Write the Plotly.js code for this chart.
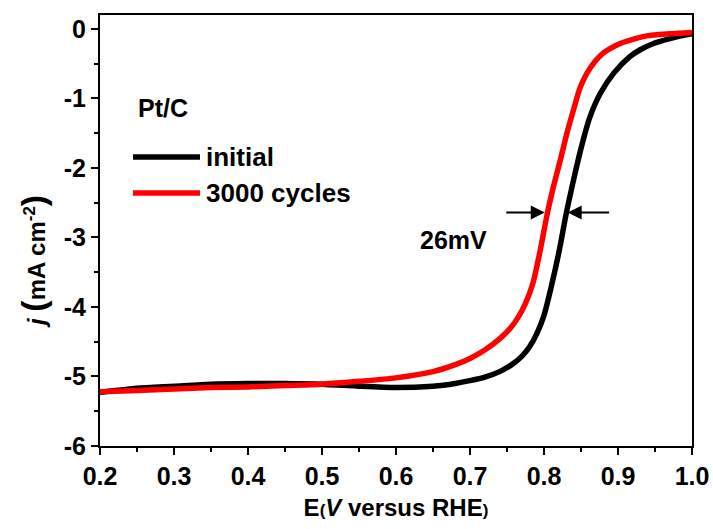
<!DOCTYPE html>
<html>
<head>
<meta charset="utf-8">
<script src="https://cdn.plot.ly/plotly-3.0.1.min.js"></script>
<style>html,body{margin:0;padding:0;background:#fff;}#chart{width:713px;height:529px;}</style>
</head>
<body>
<div id="chart"></div>
<script>
// Data
const initialE = [0.20, 0.25, 0.30, 0.35, 0.40, 0.45, 0.50, 0.55, 0.60, 0.65, 0.68, 0.70, 0.72, 0.74, 0.755, 0.77, 0.78, 0.79, 0.80, 0.81, 0.82, 0.83, 0.84, 0.85, 0.862, 0.876, 0.894, 0.916, 0.93, 0.948, 0.97, 0.985, 1.00];
const initialJ = [-5.23, -5.17, -5.14, -5.11, -5.10, -5.10, -5.11, -5.14, -5.16, -5.14, -5.10, -5.06, -5.01, -4.93, -4.84, -4.71, -4.58, -4.39, -4.12, -3.70, -3.22, -2.66, -2.17, -1.72, -1.27, -0.93, -0.64, -0.40, -0.30, -0.21, -0.14, -0.10, -0.07];

const cyclesE = [0.20, 0.25, 0.30, 0.35, 0.40, 0.45, 0.50, 0.55, 0.60, 0.65, 0.68, 0.70, 0.72, 0.74, 0.755, 0.765, 0.775, 0.785, 0.795, 0.804, 0.813, 0.822, 0.831, 0.840, 0.849, 0.862, 0.880, 0.903, 0.92, 0.939, 0.97, 1.00];
const cyclesJ = [-5.22, -5.20, -5.18, -5.16, -5.15, -5.13, -5.11, -5.07, -5.02, -4.93, -4.83, -4.74, -4.62, -4.46, -4.30, -4.15, -3.95, -3.66, -3.18, -2.68, -2.26, -1.89, -1.50, -1.16, -0.84, -0.57, -0.35, -0.21, -0.15, -0.10, -0.07, -0.05];

const seriesNames = ["initial", "3000 cycles"];
const seriesColors = ["#000000", "#ff0000"];
const xTickVals = [0.2, 0.3, 0.4, 0.5, 0.6, 0.7, 0.8, 0.9, 1.0];
const xTickText = ["0.2", "0.3", "0.4", "0.5", "0.6", "0.7", "0.8", "0.9", "1.0"];
const yTickVals = [-6, -5, -4, -3, -2, -1, 0];
const yTickText = ["-6", "-5", "-4", "-3", "-2", "-1", "0"];

const FONT = "Arial, 'Liberation Sans', sans-serif";
const bold = s => "<b>" + s + "</b>";

const traces = [
  {x: initialE, y: initialJ, name: seriesNames[0], mode: "lines",
   line: {color: seriesColors[0], width: 5.5, shape: "spline", smoothing: 0.7}},
  {x: cyclesE, y: cyclesJ, name: seriesNames[1], mode: "lines",
   line: {color: seriesColors[1], width: 5.5, shape: "spline", smoothing: 0.7}}
];

const axisCommon = {
  showline: true, mirror: true, linecolor: "#000", linewidth: 2,
  ticks: "outside", ticklen: 7, tickwidth: 2, tickcolor: "#000",
  showgrid: false, zeroline: false,
  tickfont: {family: FONT, size: 25, color: "#000", weight: 700}
};

const py = p => (446 - p) / 431;   // pixel row -> paper y
const px = p => (p - 100) / 592;   // pixel column -> paper x

const layout = {
  width: 713, height: 529,
  margin: {l: 100, r: 21, t: 15, b: 83},
  paper_bgcolor: "#fff", plot_bgcolor: "#fff",
  showlegend: false,
  xaxis: Object.assign({}, axisCommon, {
    range: [0.2, 1.0], tickmode: "array", tickvals: xTickVals, ticktext: xTickText.map(bold),
    minor: {dtick: 0.05, tick0: 0.2, ticks: "outside", ticklen: 4, tickwidth: 2, tickcolor: "#000"},
    title: {text: "<b>E<span style='font-size:17px'>(</span><i>V</i> versus RHE<span style='font-size:17px'>)</span></b>",
            font: {family: FONT, size: 24, color: "#000", weight: 700}, standoff: 10}
  }),
  yaxis: Object.assign({}, axisCommon, {
    range: [-6, 0.2], tickmode: "array", tickvals: yTickVals, ticktext: yTickText.map(bold),
    minor: {dtick: 0.5, tick0: 0, ticks: "outside", ticklen: 4, tickwidth: 2, tickcolor: "#000"}
  }),
  shapes: [
    {type: "line", xref: "paper", yref: "paper", x0: px(133), x1: px(200), y0: py(157), y1: py(157),
     line: {color: seriesColors[0], width: 5.5}},
    {type: "line", xref: "paper", yref: "paper", x0: px(133), x1: px(200), y0: py(193), y1: py(193),
     line: {color: seriesColors[1], width: 5.5}}
  ],
  annotations: [
    {xref: "paper", yref: "paper", x: px(33), y: py(262), textangle: -90,
     text: "<b><i>j</i> <span style='font-size:34px'>(</span>mA cm<sup>-2</sup><span style='font-size:34px'>)</span></b>",
     showarrow: false, xanchor: "center", yanchor: "middle",
     font: {family: FONT, size: 24, color: "#000", weight: 700}},
    {xref: "paper", yref: "paper", x: px(136), y: py(108), text: bold("Pt/C"), showarrow: false,
     xanchor: "left", yanchor: "middle", font: {family: FONT, size: 25, color: "#000", weight: 700}},
    {xref: "paper", yref: "paper", x: px(204), y: py(157), text: bold(seriesNames[0]), showarrow: false,
     xanchor: "left", yanchor: "middle", font: {family: FONT, size: 26, color: "#000", weight: 700}},
    {xref: "paper", yref: "paper", x: px(204), y: py(193), text: bold(seriesNames[1]), showarrow: false,
     xanchor: "left", yanchor: "middle", font: {family: FONT, size: 26, color: "#000", weight: 700}},
    {x: 0.678, y: -3.04, text: bold("26mV"), showarrow: false, xanchor: "center", yanchor: "middle",
     font: {family: FONT, size: 25, color: "#000", weight: 700}},
    {x: 0.801, y: -2.64, ax: 0.745, ay: -2.64, axref: "x", ayref: "y", text: " ", showarrow: true,
     arrowhead: 2, arrowsize: 1.4, arrowwidth: 2, arrowcolor: "#000"},
    {x: 0.832, y: -2.64, ax: 0.892, ay: -2.64, axref: "x", ayref: "y", text: " ", showarrow: true,
     arrowhead: 2, arrowsize: 1.4, arrowwidth: 2, arrowcolor: "#000"}
  ]
};

Plotly.newPlot("chart", traces, layout, {displayModeBar: false, staticPlot: true});
</script>
</body>
</html>
